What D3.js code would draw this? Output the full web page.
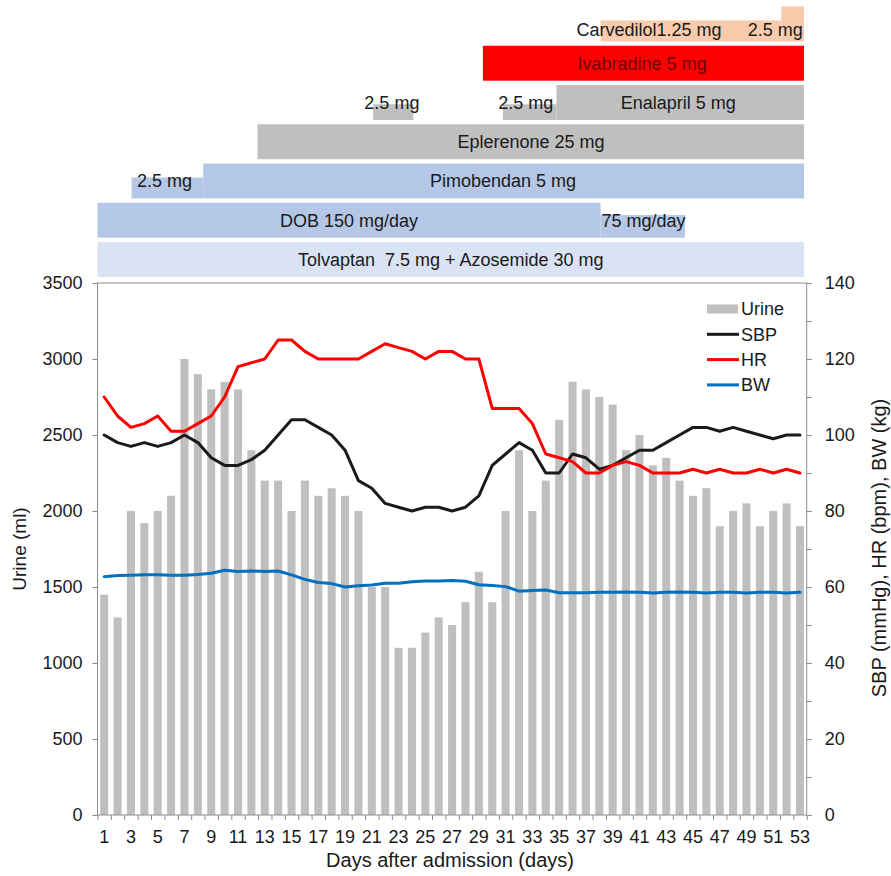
<!DOCTYPE html>
<html><head><meta charset="utf-8">
<script src="https://cdn.jsdelivr.net/npm/d3@7"></script>
<style>
body{margin:0;background:#fff}
text{font-family:"Liberation Sans",Arial,sans-serif;fill:#1a1a1a}
</style>
</head><body>
<svg id="c" width="891" height="876"></svg>
<script>
// ---------------- data ----------------
const days = [1,2,3,4,5,6,7,8,9,10,11,12,13,14,15,16,17,18,19,20,21,22,23,24,25,26,27,
  28,29,30,31,32,33,34,35,36,37,38,39,40,41,42,43,44,45,46,47,48,49,50,51,52,53];
const dayTickLabels = [1,3,5,7,9,11,13,15,17,19,21,23,25,27,29,31,33,35,37,39,41,43,45,47,49,51,53];

const urine = [1450,1300,2000,1920,2000,2100,3000,2900,2800,2850,2800,2400,2200,2200,2000,2200,2100,2150,2100,2000,
  1500,1500,1100,1100,1200,1300,1250,1400,1600,1400,2000,2400,2000,2200,2600,2850,2800,2750,2700,2400,
  2500,2300,2350,2200,2100,2150,1900,2000,2050,1900,2000,2050,1900];
const sbp = [100,98,97,98,97,98,100,98,94,92,92,93.5,96,100,104,104,102,100,96,88,
  86,82,81,80,81,81,80,81,84,92,95,98,96,90,90,95,94,91,92,94,
  96,96,98,100,102,102,101,102,101,100,99,100,100];
const hr = [110,105,102,103,105,101,101,103,105,110,118,119,120,125,125,122,120,120,120,120,
  122,124,123,122,120,122,122,120,120,107,107,107,103,95,94,93,90,90,92,93,
  92,90,90,90,91,90,91,90,90,91,90,91,90];
const bw = [62.7,63,63.1,63.2,63.2,63.1,63.1,63.3,63.6,64.4,64.1,64.2,64.1,64.2,63.2,62,61.2,60.9,60,60.3,
  60.5,61,61,61.4,61.6,61.6,61.7,61.5,60.6,60.4,60.1,58.9,59.1,59.2,58.5,58.5,58.5,58.6,58.6,58.7,
  58.6,58.4,58.6,58.7,58.6,58.4,58.6,58.6,58.4,58.6,58.6,58.4,58.6];

const urineTicks = [0,500,1000,1500,2000,2500,3000,3500];
const rightTicks = [0,10,20,30,40,50,60,70,80,90,100,110,120,130,140];
const rightTickLabels = [0,20,40,60,80,100,120,140];

const seriesNames = ["Urine","SBP","HR","BW"];

// drug timeline (days; fraction = relative dose bar height)
const drugRows = ["Carvedilol","Ivabradine","Enalapril","Eplerenone","Pimobendan","DOB","Tolvaptan"];
const drugStart = [38.1, 51.6, 29.3, 21.1, 30.8, 34.8, 12.45, 3.05, 8.4, 0.5, 38.1, 0.5];
const drugEnd   = [51.6, 53.3, 53.3, 24.1, 34.8, 53.3, 53.3, 8.4, 53.3, 38.1, 44.4, 53.3];
const drugRow   = ["Carvedilol","Carvedilol","Ivabradine","Enalapril","Enalapril","Enalapril","Eplerenone",
  "Pimobendan","Pimobendan","DOB","DOB","Tolvaptan"];
const drugFraction = [0.6,1,1,0.45,0.45,1,1,0.6,1,1,0.65,1];

const labelText = ["Carvedilol1.25 mg","2.5 mg","Ivabradine 5 mg","2.5 mg","2.5 mg","Enalapril 5 mg",
  "Eplerenone 25 mg","2.5 mg","Pimobendan 5 mg","DOB 150 mg/day","75 mg/day",
  "Tolvaptan  7.5 mg + Azosemide 30 mg"];
const labelRow = ["Carvedilol","Carvedilol","Ivabradine","Enalapril","Enalapril","Enalapril","Eplerenone",
  "Pimobendan","Pimobendan","DOB","DOB","Tolvaptan"];
const labelDay = [36.3, 53.2, 41.2, 22.5, 32.5, 43.9, 32.9, 5.5, 30.8, 19.3, 41.3, 26.9];
const labelAnchor = ["start","end","middle","middle","middle","middle","middle","middle","middle","middle","middle","middle"];

// ---------------- styles ----------------
const drugColor = {Carvedilol:"#F8CBAD",Ivabradine:"#FF0000",Enalapril:"#BFBFBF",Eplerenone:"#BFBFBF",
  Pimobendan:"#B4C7E7",DOB:"#B4C7E7",Tolvaptan:"#DAE3F3"};
const lineColor = {SBP:"#1a1a1a",HR:"#FF0000",BW:"#0070C0"};
const axisColor = "#8c8c8c";

// ---------------- layout ----------------
const svg = d3.select("#c");
const L = 97.5, R = 806.7, T = 283, B = 815;

const x = d3.scaleBand().domain(days).range([L,R]).paddingInner(0.4).paddingOuter(0.2);
const xd = d3.scaleLinear().domain([0.5,53.5]).range([L,R]);
const yL = d3.scaleLinear().domain([0,3500]).range([B,T]);
const yR = d3.scaleLinear().domain([0,140]).range([B,T]);
const yRow = d3.scaleBand().domain(drugRows).range([6.5,277]).paddingInner(0.11);

// drug bars
const segs = drugStart.map((s,i)=>({s, e:drugEnd[i], row:drugRow[i], f:drugFraction[i]}));
svg.append("g").selectAll("rect").data(segs).join("rect")
  .attr("x", d=>xd(d.s)).attr("width", d=>xd(d.e)-xd(d.s))
  .attr("y", d=>yRow(d.row)+yRow.bandwidth()*(1-d.f))
  .attr("height", d=>yRow.bandwidth()*d.f)
  .attr("fill", d=>drugColor[d.row]);

const labs = labelText.map((t,i)=>({t,row:labelRow[i],day:labelDay[i],a:labelAnchor[i]}));
svg.append("g").selectAll("text").data(labs).join("text")
  .attr("x", d=>xd(d.day))
  .attr("y", d=>yRow(d.row)+yRow.bandwidth()/2 + (d.row==="Carvedilol"?6:0))
  .attr("dy","0.35em")
  .attr("text-anchor", d=>d.a)
  .style("font-size","18px")
  .style("fill", d=>d.row==="Ivabradine"?"#6e0000":"#1a1a1a")
  .attr("xml:space","preserve")
  .style("white-space","pre")
  .text(d=>d.t);

// urine bars
svg.append("g").selectAll("rect").data(days).join("rect")
  .attr("x", d=>x(d)).attr("width", x.bandwidth())
  .attr("y", (d,i)=>yL(urine[i])).attr("height",(d,i)=>B-yL(urine[i]))
  .attr("fill","#BFBFBF");

// frame
svg.append("rect").attr("x",L).attr("y",T).attr("width",R-L).attr("height",B-T)
  .attr("fill","none").attr("stroke",axisColor).attr("stroke-width",1);

function styleAxis(g){
  g.select(".domain").remove();
  g.selectAll(".tick line").attr("stroke",axisColor);
  g.selectAll("text").style("font-size","18px").style("font-family",'"Liberation Sans",Arial,sans-serif').attr("fill","#1a1a1a");
}

// left axis
svg.append("g").attr("transform",`translate(${L},0)`)
  .call(d3.axisLeft(yL).tickValues(urineTicks).tickSize(5).tickPadding(10).tickFormat(d3.format("d")))
  .call(styleAxis);

// right axis
svg.append("g").attr("transform",`translate(${R},0)`)
  .call(d3.axisRight(yR).tickValues(rightTicks).tickSize(5).tickPadding(13)
    .tickFormat(d=>rightTickLabels.includes(d)?d:""))
  .call(styleAxis);

// bottom axis: ticks at day boundaries
const bounds = days.map(d=>d-0.5).concat([53.5]);
svg.append("g").attr("transform",`translate(0,${B})`)
  .call(d3.axisBottom(xd).tickValues(bounds).tickSize(5).tickFormat(""))
  .call(styleAxis);
svg.append("g").attr("transform",`translate(0,${B})`)
  .call(d3.axisBottom(x).tickValues(dayTickLabels).tickSize(0).tickPadding(15))
  .call(styleAxis);

// lines
const series = [["SBP",sbp],["HR",hr],["BW",bw]];
const line = d3.line().x((d,i)=>x(days[i])+x.bandwidth()/2).y(d=>yR(d));
svg.append("g").selectAll("path").data(series).join("path")
  .attr("d", d=>line(d[1])).attr("fill","none")
  .attr("stroke", d=>lineColor[d[0]]).attr("stroke-width",3)
  .attr("stroke-linejoin","round").attr("stroke-linecap","round");

// legend
const lg = svg.append("g");
seriesNames.forEach((n,i)=>{
  const yy = 309 + i*25.3;
  if(n==="Urine"){
    lg.append("rect").attr("x",707).attr("y",yy-4.5).attr("width",31).attr("height",9).attr("fill","#BFBFBF");
  } else {
    lg.append("line").attr("x1",707).attr("x2",739).attr("y1",yy).attr("y2",yy)
      .attr("stroke",lineColor[n]).attr("stroke-width",3);
  }
  lg.append("text").attr("x",741).attr("y",yy).attr("dy","0.35em").style("font-size","18px").text(n);
});

// axis titles
svg.append("text").attr("x",450).attr("y",867).attr("text-anchor","middle").style("font-size","20px")
  .text("Days after admission (days)");
svg.append("text").attr("transform","translate(19,549) rotate(-90)").attr("dy","0.35em")
  .attr("text-anchor","middle").style("font-size","19px").text("Urine (ml)");
svg.append("text").attr("transform","translate(879,548) rotate(-90)").attr("dy","0.35em")
  .attr("text-anchor","middle").style("font-size","20px").text("SBP (mmHg), HR (bpm), BW (kg)");
</script>
</body></html>
